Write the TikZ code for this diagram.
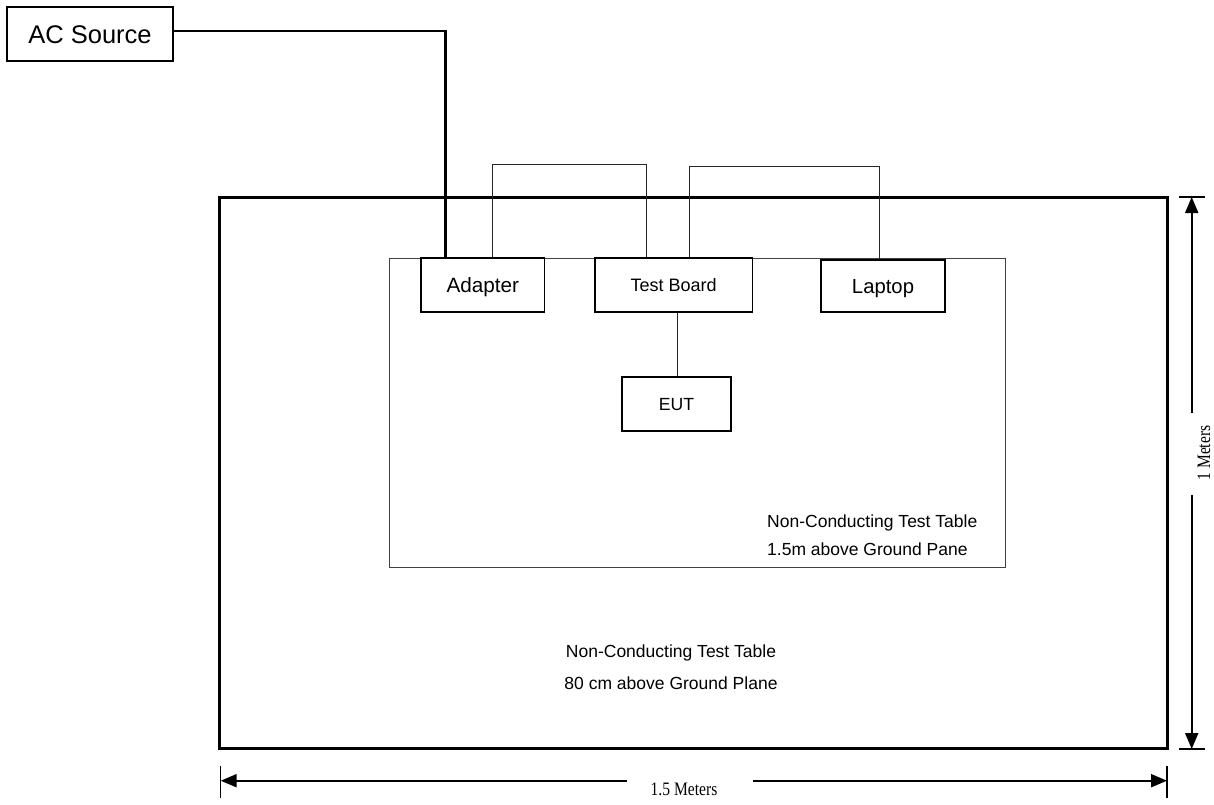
\documentclass[tikz,border=0pt]{standalone}
\usepackage{fontspec}
\setmainfont{Liberation Sans}
\newfontfamily\dimfont{Liberation Serif}
\usetikzlibrary{arrows.meta}
\begin{document}
\begin{tikzpicture}[x=1pt,y=-1pt,
  box/.style={draw, line width=1.8pt, inner sep=0pt, anchor=center, text depth=0pt},
  wire/.style={line width=0.9pt, draw=black!85},
  acwire/.style={line width=2.4pt},
  dimline/.style={line width=2pt, -{Triangle[length=16pt,width=13pt]}},
  dimtick/.style={line width=1.5pt},
  dimtext/.style={inner sep=0pt, font=\dimfont\fontsize{19}{22}\selectfont},
  lbl/.style={inner sep=0pt, font=\fontsize{17.5}{28}\selectfont}]
\useasboundingbox (0,0) rectangle (1214,804);

% tables
\node[draw, line width=3pt, minimum width=948pt, minimum height=551pt, inner sep=0pt] (outer) at (693,472.5) {};
\node[draw=black!75, line width=0.9pt, minimum width=616pt, minimum height=309pt, inner sep=0pt] (inner) at (697,412.5) {};

% boxes
\node[box, minimum width=166pt, minimum height=54pt, text height=18.3pt, font=\fontsize{25.5}{30}\selectfont] (ac) at (90,34) {AC Source};
\node[box, minimum width=123.5pt, minimum height=54pt, text height=14.8pt, font=\fontsize{20.7}{24}\selectfont] (adapter) at (482.75,285) {Adapter};
\node[box, minimum width=157.4pt, minimum height=54pt, text height=12.9pt, font=\fontsize{18}{21}\selectfont] (tb) at (673.7,285) {Test Board};
\node[box, minimum width=124pt, minimum height=52pt, text height=14.5pt, font=\fontsize{20.3}{24}\selectfont] (laptop) at (883,286) {Laptop};
\node[box, minimum width=109pt, minimum height=54pt, text height=12.6pt, font=\fontsize{17.6}{21}\selectfont] (eut) at (676.5,404) {EUT};

% connections
\draw[acwire] ([yshift=3pt]ac.east) -| ([xshift=25.5pt]adapter.north west);
\draw[wire] ([xshift=72pt]adapter.north west) -- ++(0,-92.5) -| ([xshift=52pt]tb.north west);
\draw[wire] ([xshift=95pt]tb.north west) -- ++(0,-90.5) -| ([xshift=59.6pt]laptop.north west);
\draw[wire] ([xshift=1pt]eut.north |- tb.south) -- ([xshift=1pt]eut.north);

% labels
\node[lbl, align=left, anchor=west] (innerlbl) at (767,535) {Non-Conducting Test Table\\1.5m above Ground Pane};
\node[lbl, align=center, font=\fontsize{17.5}{32}\selectfont] (outerlbl) at (671,667) {Non-Conducting Test Table\\80 cm above Ground Plane};

% vertical dimension
\coordinate (vt) at (1191.7,197);
\coordinate (vb) at (1191.7,749);
\coordinate (vgt) at (1191.7,413);
\coordinate (vgb) at (1191.7,495);
\draw[dimtick] ([xshift=-12.7pt]vt) -- ([xshift=13.3pt]vt);
\draw[dimtick] ([xshift=-12.7pt]vb) -- ([xshift=13.3pt]vb);
\draw[dimline] (vgt) -- (vt);
\draw[dimline] (vgb) -- (vb);
\node[dimtext, rotate=90] (vlbl) at (1204,453) {\scalebox{0.82}[1]{1 Meters}};

% horizontal dimension
\coordinate (hl) at (220.7,780.7);
\coordinate (hr) at (1167,780.7);
\coordinate (hgl) at (627,780.7);
\coordinate (hgr) at (753,780.7);
\draw[dimtick] ([yshift=14.7pt]hl) -- ([yshift=-17.3pt]hl);
\draw[dimtick] ([yshift=14.7pt]hr) -- ([yshift=-17.3pt]hr);
\draw[dimline] (hgl) -- (hl);
\draw[dimline] (hgr) -- (hr);
\node[dimtext] (hlbl) at (684,789) {\scalebox{0.82}[1]{1.5 Meters}};
\end{tikzpicture}
\end{document}
